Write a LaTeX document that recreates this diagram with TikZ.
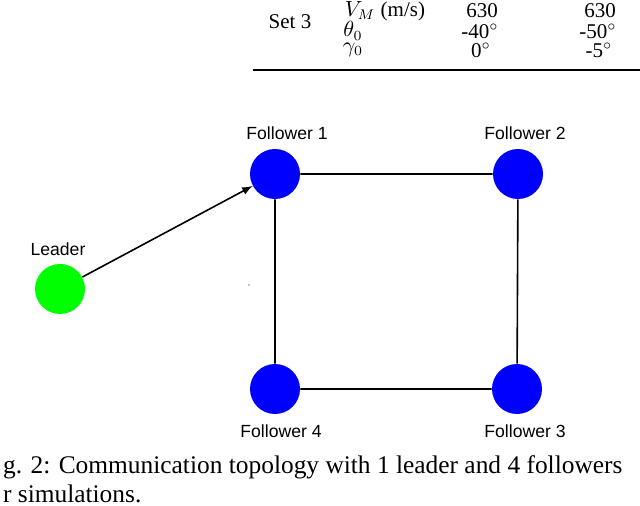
\documentclass[tikz,border=0pt]{standalone}
\usepackage{fontspec}
\setmainfont{Liberation Serif}
\newfontfamily\lblfont{Liberation Sans}
\begin{document}
\begin{tikzpicture}[x=0.5pt,y=-0.5pt,
  agent/.style={circle,draw=none,minimum size=25pt,inner sep=0pt},
  lbl/.style={font=\lblfont\fontsize{8.8}{10}\selectfont},
  tab/.style={font=\fontsize{10.5}{12}\selectfont,inner sep=0pt},
  captxt/.style={font=\fontsize{12.7}{15}\selectfont,anchor=west}]
\useasboundingbox (0,0) rectangle (640,506);

% table fragment
\node[tab] (s3) at (290,22) {Set 3};
\node[tab] (r1) at (385,11) {$V_M$ (m/s)};
\node[tab] (r2) at (353,31) {$\theta_0$};
\node[tab] (r3) at (353,50) {$\gamma_0$};
\node[tab] (a1) at (482,11) {630};
\node[tab] (b1) at (600,11) {630};
\node[tab] (a2) at (480,31) {-40$^\circ$};
\node[tab] (b2) at (598,31) {-50$^\circ$};
\node[tab] (a3) at (481,50) {0$^\circ$};
\node[tab] (b3) at (599,50) {-5$^\circ$};
\draw[line width=0.8pt] (253,70) -- (640,70);

% agents
\node[agent,fill=green] (L) at (60,289) {};
\node[agent,fill=blue] (F1) at (275,174) {};
\node[agent,fill=blue] (F2) at (518,174) {};
\node[agent,fill=blue] (F3) at (517,389) {};
\node[agent,fill=blue] (F4) at (275,389) {};
\node[lbl] (tL) at (58,249) {Leader};
\node[lbl] (t1) at (287,133) {Follower 1};
\node[lbl] (t2) at (525,133) {Follower 2};
\node[lbl] (t3) at (525,431) {Follower 3};
\node[lbl] (t4) at (281,431) {Follower 4};
\fill (249,285) circle (0.6);

\draw[thick,-latex] (L) -- (F1);
\draw[thick] (F1) -- (F2) -- (F3) -- (F4) -- (F1);

% caption
\node[captxt] (c1) at (-4,467) {g. 2: Communication topology with 1 leader and 4 followers};
\node[captxt] (c2) at (-4,494) {r simulations.};
\end{tikzpicture}
\end{document}
